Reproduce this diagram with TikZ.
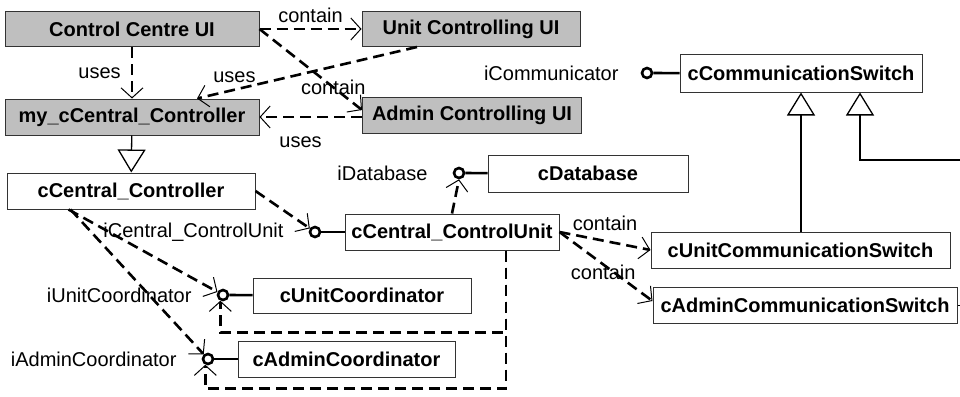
\documentclass[tikz,border=0pt]{standalone}
\usepackage{fontspec}
\setmainfont{Liberation Sans}
\usetikzlibrary{arrows.meta,positioning}
\tikzset{
  cls/.style={draw=black!80, line width=1pt, minimum height=36pt, inner sep=0pt, font=\bfseries\fontsize{20}{24}\selectfont},
  ui/.style={cls, fill=gray!50},
  lbl/.style={inner sep=0pt, font=\fontsize{20}{24}\selectfont},
  iface/.style={circle, draw, line width=2.6pt, minimum size=10pt, inner sep=0pt},
  stem/.style={line width=2.6pt},
  dep/.style={line width=2.6pt, dash pattern=on 11pt off 6pt, -{Straight Barb[length=10pt,width=22pt,line width=1pt]}},
  gen/.style={line width=1.3pt, -{Triangle[open,length=23pt,width=28pt,line width=1.3pt]}},
}
\begin{document}
\begin{tikzpicture}[x=1pt,y=-1pt]
\def\boxH{36pt}
\def\gap{25pt}
\useasboundingbox (0,0) rectangle (960,396);

% user interfaces
\node[ui, minimum width=254pt, minimum height=35pt] (ccui) at (132,29) {Control Centre UI};
\node[ui, minimum width=218pt, minimum height=35pt] (ucui) at (471,29) {Unit Controlling UI};
\node[ui, minimum width=254pt] (mycc) at (132,117) {my\_cCentral\_Controller};
\node[ui, minimum width=219pt] (acui) at (472,115) {Admin Controlling UI};

% classes
\node[cls, minimum width=242pt, minimum height=37pt] (ccs) at (801,73.5) {cCommunicationSwitch};
\node[cls, minimum width=200pt, minimum height=37pt] (cdb) at (588,173.5) {cDatabase};
\node[cls, minimum width=248pt] (ccc) at (131,191) {cCentral\_Controller};
\node[cls, minimum width=214pt] (ccu) at (452,232) {cCentral\_ControlUnit};
\node[cls, minimum width=218pt, minimum height=35pt] (cuc) at (362,295.5) {cUnitCoordinator};
\node[cls, minimum width=217pt] (cac) at (346.5,359) {cAdminCoordinator};
\node[cls, minimum width=299pt] (cucs) at (800.5,250) {cUnitCommunicationSwitch};
\node[cls, minimum width=304pt] (cacs) at (805,305) {cAdminCommunicationSwitch};

% interfaces
\node[iface] (icomm) at (647,73) {};
\node[iface] (idb) at (459,173) {};
\node[iface] (iccu) at (315,232) {};
\node[iface] (iuc) at (223,295) {};
\node[iface] (iac) at (208,359) {};
\node[lbl, left=22pt of icomm] (icommlbl) {iCommunicator};
\node[lbl, left=\gap of idb] (idblbl) {iDatabase};
\node[lbl, left=\gap of iccu] (iccululbl) {iCentral\_ControlUnit};
\node[lbl, left=\gap of iuc] (iuclbl) {iUnitCoordinator};
\node[lbl, left=\gap of iac] (iaclbl) {iAdminCoordinator};
\draw[stem] (icomm) -- (ccs);
\draw[stem] (idb) -- (cdb);
\draw[stem] (iccu) -- (ccu);
\draw[stem] (iuc) -- (cuc);
\draw[stem] (iac) -- (cac);

% contain / uses
\draw[dep] (ccui.east) -- node[lbl, above=5pt] {contain} (ucui.west);
\draw[dep] (ccui.east) -- node[lbl, pos=0.72] {contain} ([yshift=5pt]acui.west);
\draw[dep] (ccui) -- node[lbl, left=10pt] {uses} (mycc);
\draw[dep] ([xshift=-54pt]ucui.south) -- node[lbl, pos=0.83, above=6pt] {uses} ([xshift=65pt]mycc.north);
\draw[dep] ([yshift=-2pt]acui.west) -- node[lbl, pos=0.6, below=18pt] {uses} (mycc.east);
\draw[dep] (ccu.east) -- node[lbl, above=9pt] {contain} (cucs.west);
\draw[dep] (ccu.east) -- node[lbl, pos=0.47, yshift=-8pt] {contain} ([yshift=4pt]cacs.west);

% required interfaces
\draw[dep] (ccc.east) -- (iccu);
\draw[dep] ([xshift=62pt]ccc.south west) -- (iuc);
\draw[dep] ([xshift=64pt]ccc.south west) -- (iac);
\draw[dep] (ccu.north) -- (idb.south);
\draw[dep] ([xshift=54pt]ccu.south) -- ++(0,82) -| (iuc.-115);
\draw[dep] ([xshift=54pt]ccu.south) -- ++(0,138) -| (iac.-115);

% generalisation
\coordinate (edgeA) at (960,160);
\coordinate (edgeB) at (960,305);
\draw[gen] (mycc) -- (ccc);
\draw[gen] (ccs.south |- cucs.north) -- (ccs.south);
\draw[gen] (edgeA) -| ([xshift=59pt]ccs.south);
\draw[line width=1pt] (cacs.east) -- (edgeB);
\end{tikzpicture}
\end{document}
